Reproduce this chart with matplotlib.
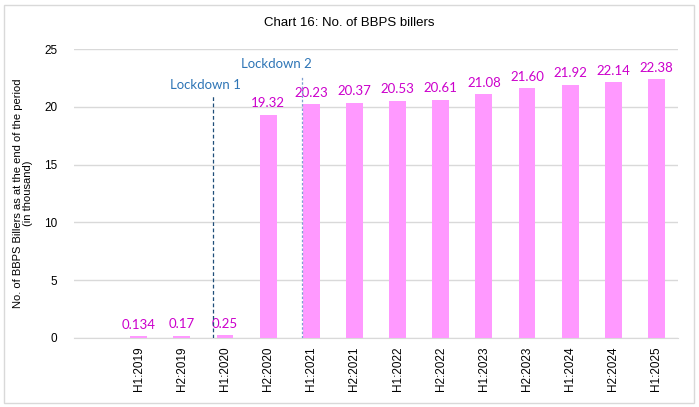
import matplotlib.pyplot as plt
from matplotlib.patches import Rectangle

# categories (first slot is empty in the original chart)
periods = ["", "H1:2019", "H2:2019", "H1:2020", "H2:2020", "H1:2021", "H2:2021", "H1:2022",
           "H2:2022", "H1:2023", "H2:2023", "H1:2024", "H2:2024", "H1:2025"]
billers = [None, 0.134, 0.17, 0.25, 19.32, 20.23, 20.37, 20.53,
           20.61, 21.08, 21.60, 21.92, 22.14, 22.38]
value_labels = ["", "0.134", "0.17", "0.25", "19.32", "20.23", "20.37", "20.53",
                "20.61", "21.08", "21.60", "21.92", "22.14", "22.38"]

plt.rcParams['font.family'] = ['Liberation Sans', 'DejaVu Sans']

fig = plt.figure(figsize=(6.99, 4.07), dpi=100)
ax = fig.add_axes([74 / 699, 1 - 338 / 407, (678 - 74) / 699, (338 - 49) / 407])

x = list(range(len(periods)))
xs = [i for i in x if billers[i] is not None]
ys = [billers[i] for i in xs]
ax.bar(xs, ys, width=0.39, color="#ff99ff", zorder=3)

for i in xs:
    ax.annotate(value_labels[i], (i, billers[i]), xytext=(0, 4), textcoords="offset points",
                ha="center", va="bottom", color="#cc00cc", fontsize=9.5, family=["Lato", "DejaVu Sans"])

ax.set_xlim(-0.5, len(periods) - 0.5)
ax.set_ylim(0, 25)
ax.set_yticks([0, 5, 10, 15, 20, 25])
ax.set_xticks(x)
ax.set_xticklabels(periods, rotation=90, fontsize=8.5)
ax.tick_params(axis="y", labelsize=8.5, length=0, pad=12)
ax.tick_params(axis="x", length=0, pad=6)
ax.grid(axis="y", color="#d9d9d9", linewidth=1, zorder=0)
for s in ["top", "right", "left"]:
    ax.spines[s].set_visible(False)
ax.spines["bottom"].set_color("#d9d9d9")

# lockdown markers
ax.plot([2.72, 2.72], [0, 21.0], color="#1f4e79", linestyle=(0, (3, 2)), linewidth=0.9, zorder=4)
ax.text(2.55, 21.85, "Lockdown 1", ha="center", va="center", color="#2e75b6", fontsize=9.5,
        family=["Lato", "DejaVu Sans"])
ax.plot([4.78, 4.78], [0, 22.6], color="#7f9fd0", linestyle=(0, (2, 1.5)), linewidth=0.9, zorder=4)
ax.text(4.2, 23.7, "Lockdown 2", ha="center", va="center", color="#2e75b6", fontsize=9.5,
        family=["Lato", "DejaVu Sans"])

ax.set_ylabel("No. of BBPS Billers as at the end of the period\n(in thousand)", fontsize=8, labelpad=8,
              linespacing=1.0)
fig.text(349 / 699, 1 - 23 / 407, "Chart 16: No. of BBPS billers", ha="center", va="center", fontsize=9.5)

fig.patches.append(Rectangle((4 / 699, 4 / 407), 690 / 699, 398 / 407, transform=fig.transFigure,
                             fill=False, edgecolor="#d9d9d9", linewidth=1))

fig.savefig("out.png", dpi=100)
